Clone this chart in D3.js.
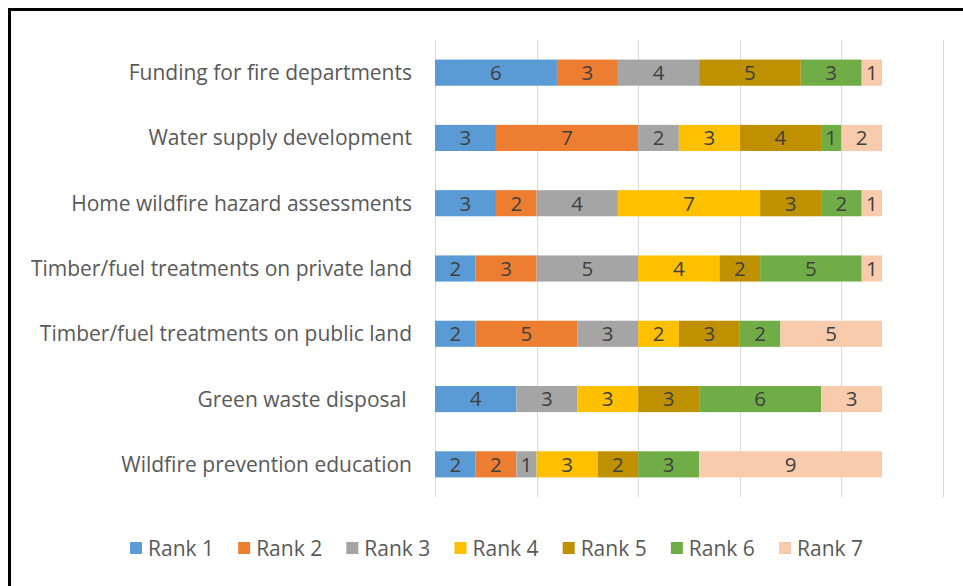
<!DOCTYPE html>
<html>
<head>
<meta charset="utf-8">
<script src="https://cdn.jsdelivr.net/npm/d3@7/dist/d3.min.js"></script>
<style>
  html, body { margin: 0; padding: 0; background: #fff; }
  svg { display: block; }
  text { font-family: "Open Sans", "Noto Sans", sans-serif; white-space: pre; }
</style>
</head>
<body>
<svg id="chart" width="963" height="586"></svg>
<script>
// Wildfire mitigation priorities: number of respondents giving each rank
const categories = [
  "Funding for fire departments",
  "Water supply development",
  "Home wildfire hazard assessments",
  "Timber/fuel treatments on private land",
  "Timber/fuel treatments on public land",
  "Green waste disposal ",
  "Wildfire prevention education"
];
const seriesNames = ["Rank 1", "Rank 2", "Rank 3", "Rank 4", "Rank 5", "Rank 6", "Rank 7"];
const rank1 = [6, 3, 3, 2, 2, 4, 2];
const rank2 = [3, 7, 2, 3, 5, 0, 2];
const rank3 = [4, 2, 4, 5, 3, 3, 1];
const rank4 = [0, 3, 7, 4, 2, 3, 3];
const rank5 = [5, 4, 3, 2, 3, 3, 2];
const rank6 = [3, 1, 2, 5, 2, 6, 3];
const rank7 = [1, 2, 1, 1, 5, 3, 9];
const xTicks = [0, 5, 10, 15, 20, 25];
const colors = ["#5B9BD5", "#ED7D31", "#A5A5A5", "#FFC000", "#BF9000", "#70AD47", "#F8CBAD"];

const rankArrays = [rank1, rank2, rank3, rank4, rank5, rank6, rank7];
const rows = categories.map((c, i) => {
  const r = { category: c };
  seriesNames.forEach((s, k) => { r[s] = rankArrays[k][i]; });
  return r;
});

const svg = d3.select("#chart");

// Outer frame
svg.append("rect")
  .attr("x", 9.5).attr("y", 9.5)
  .attr("width", 1000).attr("height", 1000)
  .attr("fill", "none").attr("stroke", "#000").attr("stroke-width", 3);

const x = d3.scaleLinear().domain([0, 25]).range([435, 943]);
const y = d3.scaleBand().domain(categories).range([40, 497])
  .paddingInner(0.6).paddingOuter(0.3);

// Vertical gridlines
svg.append("g").selectAll("line").data(xTicks).join("line")
  .attr("x1", d => Math.round(x(d)) + 0.5).attr("x2", d => Math.round(x(d)) + 0.5)
  .attr("y1", 40).attr("y2", 497)
  .attr("stroke", "#D9D9D9").attr("stroke-width", 1);

const stacked = d3.stack().keys(seriesNames)(rows);

const layers = svg.append("g").selectAll("g").data(stacked).join("g")
  .attr("fill", (d, i) => colors[i]);

layers.selectAll("rect").data(d => d).join("rect")
  .attr("x", d => x(d[0]))
  .attr("y", d => y(d.data.category))
  .attr("width", d => x(d[1]) - x(d[0]))
  .attr("height", y.bandwidth());

// Value labels inside segments
const labels = svg.append("g");
stacked.forEach(layer => {
  layer.forEach(d => {
    const v = d[1] - d[0];
    if (v <= 0) return;
    labels.append("text")
      .attr("x", (x(d[0]) + x(d[1])) / 2)
      .attr("y", y(d.data.category) + y.bandwidth() / 2)
      .attr("dy", "0.36em")
      .attr("text-anchor", "middle")
      .attr("font-size", 20.5)
      .attr("fill", "#404040")
      .text(v);
  });
});

// Category labels
svg.append("g").selectAll("text").data(categories).join("text")
  .attr("x", 412)
  .attr("y", d => y(d) + y.bandwidth() / 2)
  .attr("dy", "0.36em")
  .attr("text-anchor", "end")
  .attr("font-size", 21)
  .attr("fill", "#595959")
  .text(d => d);

// Legend
const legend = svg.append("g");
const legendX = d3.scalePoint().domain(seriesNames).range([130, 779]);
seriesNames.forEach((s, i) => {
  const gx = legendX(s);
  legend.append("rect")
    .attr("x", gx).attr("y", 542)
    .attr("width", 12).attr("height", 12)
    .attr("fill", colors[i]);
  legend.append("text")
    .attr("x", gx + 18).attr("y", 548)
    .attr("dy", "0.36em")
    .attr("font-size", 21)
    .attr("fill", "#595959")
    .text(s);
});
</script>
</body>
</html>
